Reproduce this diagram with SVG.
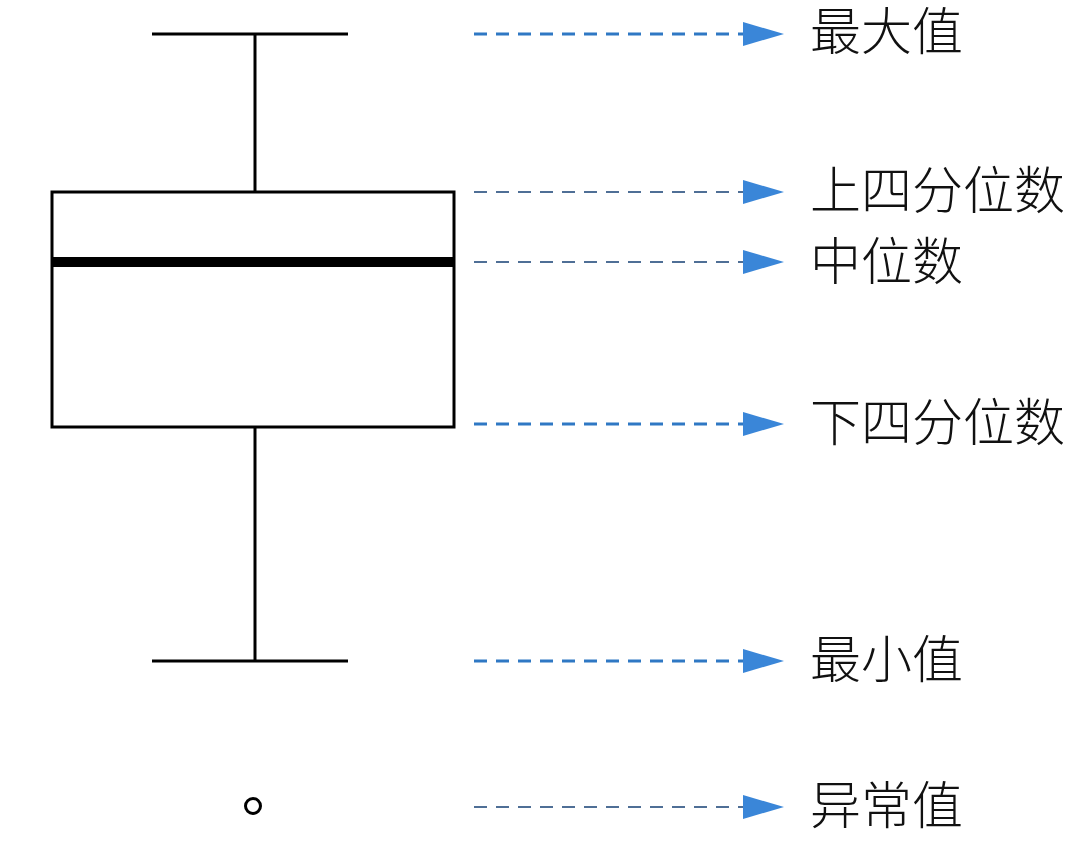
<svg xmlns="http://www.w3.org/2000/svg" width="1080" height="845" viewBox="0 0 1080 845">
<style>
.bx{fill:none;stroke:#000;stroke-width:3}
.lbl{font-family:"Noto Sans CJK SC","Noto Sans",sans-serif;font-size:51px;font-weight:300;fill:#111}
.c1{stroke:#2f78c4;stroke-width:3;stroke-dasharray:13 9;fill:none}
.c2{stroke:#4f6f96;stroke-width:2;stroke-dasharray:13 9;fill:none}
.ah{fill:#3a86d8}
</style>
<rect width="1080" height="845" fill="#fff"/>
<g id="boxplot">
<line class="bx" x1="152" y1="34" x2="348" y2="34"/>
<line class="bx" x1="255" y1="34" x2="255" y2="192"/>
<rect class="bx" x="52" y="192" width="402" height="235"/>
<line x1="52" y1="262" x2="454" y2="262" stroke="#000" stroke-width="10"/>
<line class="bx" x1="255" y1="427" x2="255" y2="661"/>
<line class="bx" x1="152" y1="661" x2="348" y2="661"/>
</g>
<g id="outlier"><circle cx="253" cy="806" r="7.5" fill="none" stroke="#000" stroke-width="3"/></g>
<g id="connectors">
<line class="c1" x1="474" y1="34" x2="744" y2="34"/><polygon class="ah" points="743,22 784,34 743,46"/>
<line class="c2" x1="474" y1="192" x2="744" y2="192"/><polygon class="ah" points="743,180 784,192 743,204"/>
<line class="c2" x1="474" y1="262" x2="744" y2="262"/><polygon class="ah" points="743,250 784,262 743,274"/>
<line class="c1" x1="474" y1="424" x2="744" y2="424"/><polygon class="ah" points="743,412 784,424 743,436"/>
<line class="c1" x1="474" y1="661" x2="744" y2="661"/><polygon class="ah" points="743,649 784,661 743,673"/>
<line class="c2" x1="474" y1="807" x2="744" y2="807"/><polygon class="ah" points="743,795 784,807 743,819"/>
</g>
<g id="label-max"><text class="lbl" x="810" y="50">最大值</text></g>
<g id="label-q3"><text class="lbl" x="810" y="209">上四分位数</text></g>
<g id="label-median"><text class="lbl" x="810" y="280">中位数</text></g>
<g id="label-q1"><text class="lbl" x="810" y="441">下四分位数</text></g>
<g id="label-min"><text class="lbl" x="810" y="678">最小值</text></g>
<g id="label-outlier"><text class="lbl" x="810" y="824">异常值</text></g>
</svg>
